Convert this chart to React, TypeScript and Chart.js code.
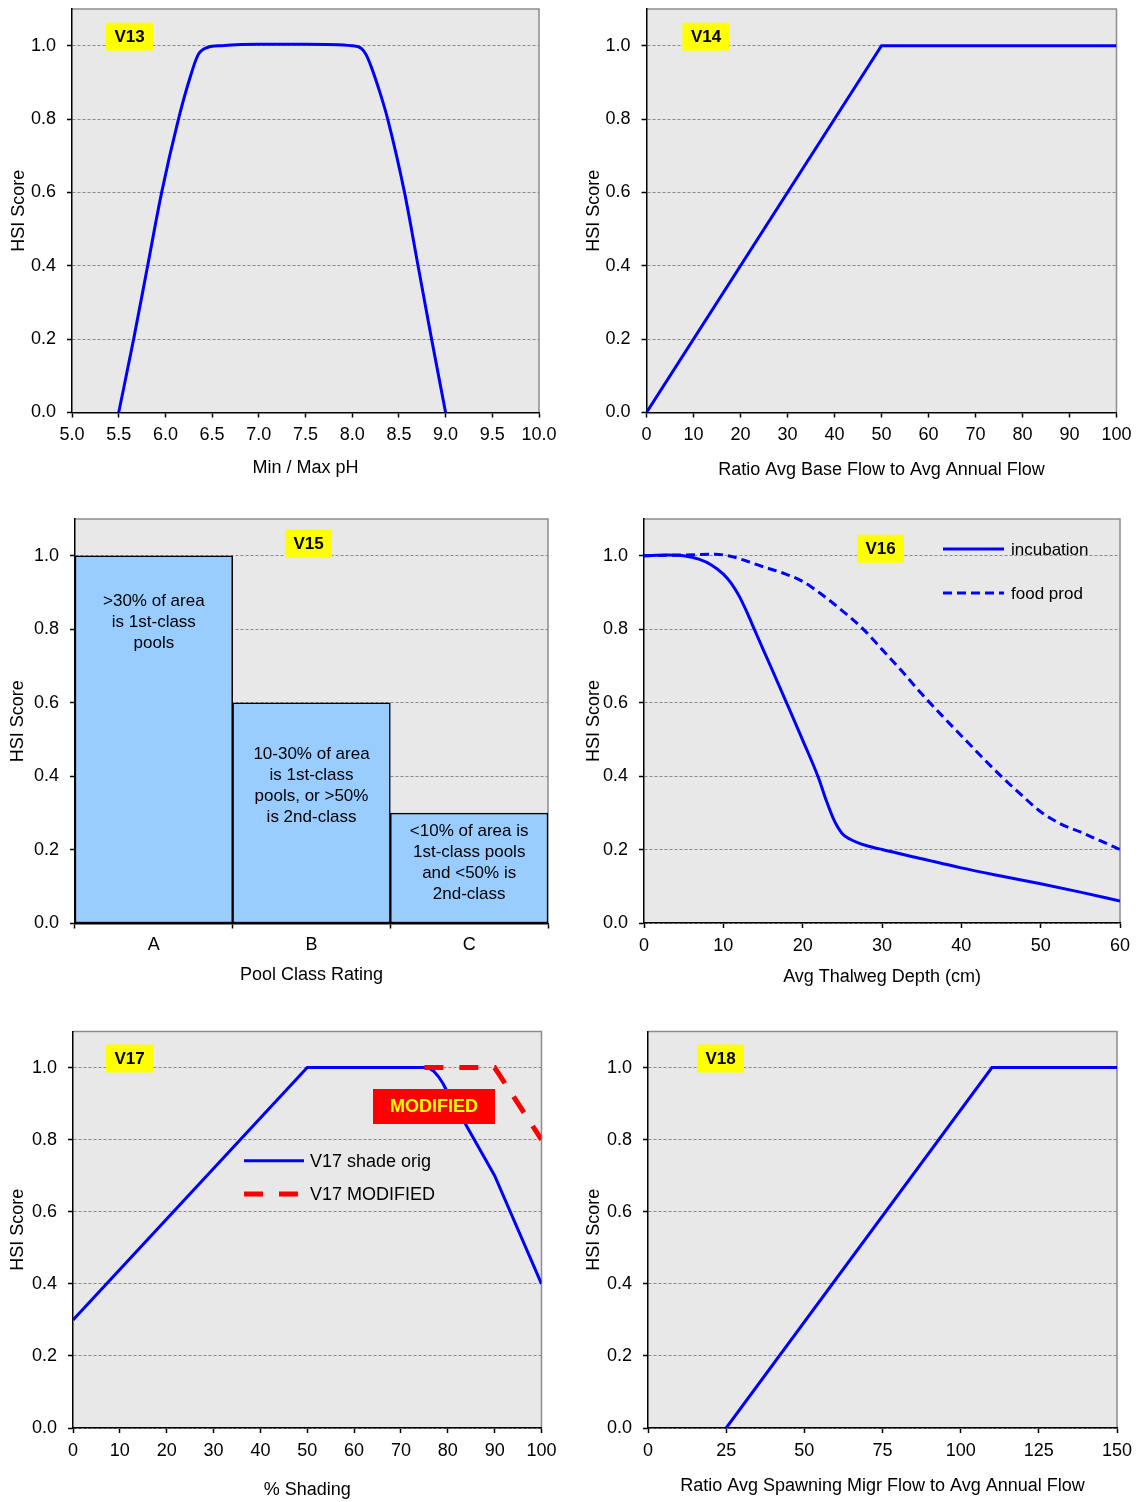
import React, { useEffect, useRef } from "react";
import { Chart, registerables } from "chart.js";

Chart.register(...registerables);

const FONT = '"Liberation Sans", Arial, Helvetica, sans-serif';
const PLOT_BG = "#e8e8e8";
const FRAME = "#8c8c8c";
const GRID = "#8a8a8a";
const BLUE = "#0000ff";
const RED = "#ff0000";

// ---------------- data ----------------
const scoreTicks = [0, 0.2, 0.4, 0.6, 0.8, 1.0];

// V13  pH
const v13Ph = [5.5, 5.66, 5.81, 5.96, 6.14, 6.26, 6.35, 6.45, 6.6, 7.0, 7.5, 8.0, 8.1, 8.15, 8.2, 8.3, 8.38, 8.56, 8.705, 8.85, 9.0];
const v13Score = [0, 0.2, 0.4, 0.6, 0.8, 0.91, 0.975, 0.995, 1.0, 1.004, 1.004, 1.0, 0.992, 0.975, 0.945, 0.87, 0.8, 0.6, 0.4, 0.2, 0];
const v13XTicks = [5.0, 5.5, 6.0, 6.5, 7.0, 7.5, 8.0, 8.5, 9.0, 9.5, 10.0];

// V14  base flow ratio
const v14Ratio = [0, 50, 100];
const v14Score = [0, 1, 1];
const v14XTicks = [0, 10, 20, 30, 40, 50, 60, 70, 80, 90, 100];

// V15  pool class
const v15Classes = ["A", "B", "C"];
const v15Score = [1.0, 0.6, 0.3];
const v15Notes = [
  [">30% of area", "is 1st-class", "pools"],
  ["10-30% of area", "is 1st-class", "pools, or >50%", "is 2nd-class"],
  ["<10% of area is", "1st-class pools", "and <50% is", "2nd-class"],
];

// V16  thalweg depth
const v16IncDepth = [0, 3, 5, 7, 8.5, 10, 11, 12, 13, 14, 16, 18, 20, 22, 23, 24, 25, 26, 27, 28, 30, 35, 40, 45, 50, 55, 60];
const v16IncScore = [1.0, 1.002, 1.0, 0.99, 0.975, 0.95, 0.925, 0.89, 0.845, 0.795, 0.697, 0.598, 0.498, 0.395, 0.332, 0.278, 0.243, 0.228, 0.218, 0.211, 0.2, 0.175, 0.15, 0.128, 0.107, 0.084, 0.06];
const v16FoodDepth = [0, 5, 9, 11, 13, 15, 17.5, 20, 22.5, 25, 27.5, 30, 32.5, 35, 37.5, 40, 42.5, 45, 47.5, 50, 52.5, 55, 57.5, 60];
const v16FoodScore = [1.0, 1.002, 1.004, 0.998, 0.985, 0.97, 0.953, 0.93, 0.893, 0.85, 0.803, 0.745, 0.686, 0.624, 0.566, 0.51, 0.454, 0.4, 0.35, 0.303, 0.27, 0.248, 0.224, 0.2];
const v16XTicks = [0, 10, 20, 30, 40, 50, 60];

// V17  shading
const v17Shade = [0, 50, 75, 76, 77, 78, 79, 80, 90, 100];
const v17Orig = [0.3, 1, 1, 0.998, 0.99, 0.975, 0.955, 0.93, 0.7, 0.4];
const v17ModShade = [75, 90, 100];
const v17Mod = [1, 1, 0.8];
const v17XTicks = [0, 10, 20, 30, 40, 50, 60, 70, 80, 90, 100];

// V18  spawning migration flow ratio
const v18Ratio = [25, 110, 150];
const v18Score = [0, 1, 1];
const v18XTicks = [0, 25, 50, 75, 100, 125, 150];

const pts = (xs: number[], ys: number[]) => xs.map((x, i) => ({ x, y: ys[i] }));

// ---------------- decorations plugin ----------------
const makeDecor = (p: any) => ({
  id: "decor" + p.key,
  beforeDraw(chart: any) {
    const { ctx, chartArea: a } = chart;
    ctx.save();
    ctx.fillStyle = PLOT_BG;
    ctx.fillRect(a.left, a.top, a.right - a.left, a.bottom - a.top);
    ctx.strokeStyle = FRAME;
    ctx.lineWidth = 1.5;
    ctx.beginPath();
    ctx.moveTo(a.left, a.top);
    ctx.lineTo(a.right, a.top);
    ctx.lineTo(a.right, a.bottom);
    ctx.stroke();
    ctx.restore();
  },
  afterDatasetsDraw(chart: any) {
    const { ctx, chartArea: a, scales } = chart;
    const xS = scales.x;
    const yS = scales.y;
    ctx.save();
    if (p.notes) {
      ctx.font = `${p.notes.size}px ${FONT}`;
      ctx.fillStyle = "#000";
      ctx.textAlign = "center";
      ctx.textBaseline = "middle";
      p.notes.lines.forEach((lines: string[], i: number) => {
        const cx = xS.getPixelForValue(i);
        const top = yS.getPixelForValue(p.notes.values[i]) + p.notes.offsets[i];
        lines.forEach((t: string, k: number) => ctx.fillText(t, cx, top + k * p.notes.lineH));
      });
    }
    if (p.stamp) {
      const s = p.stamp;
      const sx = a.left + s.dx;
      const sy = a.top + s.dy;
      ctx.fillStyle = RED;
      ctx.fillRect(sx, sy, s.w, s.h);
      ctx.fillStyle = "#ffff00";
      ctx.font = `bold ${s.size}px ${FONT}`;
      ctx.textAlign = "center";
      ctx.textBaseline = "middle";
      ctx.fillText(s.text, sx + s.w / 2, sy + s.h / 2 + 1);
    }
    if (p.legend) {
      const L = p.legend;
      L.order.forEach((di: number, r: number) => {
        const ds = chart.data.datasets[di];
        const x = a.left + L.dx;
        const y = a.top + L.dy + r * L.row;
        ctx.save();
        ctx.strokeStyle = ds.borderColor;
        ctx.lineWidth = ds.borderWidth;
        ctx.setLineDash(ds.borderDash || []);
        ctx.beginPath();
        ctx.moveTo(x, y);
        ctx.lineTo(x + L.len, y);
        ctx.stroke();
        ctx.restore();
        ctx.fillStyle = "#000";
        ctx.font = `${L.size}px ${FONT}`;
        ctx.textAlign = "left";
        ctx.textBaseline = "middle";
        ctx.fillText(ds.label, x + L.len + L.gap, y + 1);
      });
    }
    const b = p.badge;
    const bx = a.left + b.dx;
    const by = yS.getPixelForValue(1) + b.dy;
    ctx.fillStyle = "#ffff00";
    ctx.fillRect(bx, by, 47, 28);
    ctx.fillStyle = "#000";
    ctx.font = `bold 17px ${FONT}`;
    ctx.textAlign = "center";
    ctx.textBaseline = "middle";
    ctx.fillText(b.text, bx + 23.5, by + 14.5);
    ctx.restore();
  },
});

// ---------------- config builder ----------------
function makeConfig(p: any) {
  const yAxis: any = {
    type: "linear",
    min: 0,
    max: 1.1,
    afterBuildTicks: (s: any) => {
      s.ticks = scoreTicks.map((v) => ({ value: v }));
    },
    afterFit: (s: any) => {
      s.width = p.L - p.x0;
      s.paddingTop = 0;
      s.paddingBottom = 0;
    },
    ticks: {
      callback: (v: any) => Number(v).toFixed(1),
      color: "#000",
      font: { family: FONT, size: 18 },
      padding: 11,
    },
    grid: {
      color: GRID,
      lineWidth: 1,
      drawTicks: true,
      tickLength: 5,
      tickColor: "#000",
      tickWidth: 1.5,
      tickBorderDash: [],
    },
    border: { display: true, color: "#000", width: 1.5, dash: [3, 2] },
    title: {
      display: true,
      text: "HSI Score",
      color: "#000",
      font: { family: FONT, size: 18 },
      padding: { top: p.yTitlePad, bottom: 0 },
    },
  };
  const xAxis: any = {
    type: p.type === "bar" ? "category" : "linear",
    afterFit: (s: any) => {
      s.height = p.y0 + p.h - p.B;
      s.paddingLeft = 0;
      s.paddingRight = 0;
    },
    ticks: {
      color: "#000",
      font: { family: FONT, size: 18 },
      padding: p.xTickPad,
      autoSkip: false,
      maxRotation: 0,
      minRotation: 0,
    },
    grid: {
      display: true,
      drawOnChartArea: false,
      drawTicks: true,
      tickLength: 5,
      color: "#000",
      tickColor: "#000",
      tickWidth: 1.5,
      tickBorderDash: [],
    },
    border: { display: true, color: "#000", width: 1.5 },
    title: {
      display: true,
      text: p.xTitle,
      color: "#000",
      font: { family: FONT, size: 18 },
      padding: { top: 0, bottom: p.xTitlePad },
    },
  };
  if (p.type === "bar") {
    xAxis.offset = true;
    xAxis.grid.offset = true;
  } else {
    xAxis.min = p.xTicks[0];
    xAxis.max = p.xTicks[p.xTicks.length - 1];
    xAxis.afterBuildTicks = (s: any) => {
      s.ticks = p.xTicks.map((v: number) => ({ value: v }));
    };
    xAxis.ticks.callback = (v: any) => p.xFmt(Number(v));
  }
  return {
    type: p.type === "bar" ? "bar" : "line",
    data: p.data,
    options: {
      responsive: false,
      animation: false,
      devicePixelRatio: 1,
      layout: { padding: { left: 0, top: p.T - p.y0, right: p.x0 + p.w - p.R, bottom: 0 } },
      plugins: { legend: { display: false }, tooltip: { enabled: false } },
      elements: { point: { radius: 0 } },
      scales: { x: xAxis, y: yAxis },
    },
    plugins: [makeDecor(p)],
  };
}

const intFmt = (v: number) => String(Math.round(v));

const specs: any[] = [
  {
    key: "v13", type: "line", x0: 0, y0: 0, w: 569, h: 500, L: 72, T: 9, R: 539, B: 412.5,
    xTicks: v13XTicks, xFmt: (v: number) => v.toFixed(1), xTitle: "Min / Max pH",
    xTitlePad: 21, yTitlePad: 8, xTickPad: 7,
    badge: { text: "V13", dx: 34, dy: -23 },
    data: {
      datasets: [
        { label: "V13", data: pts(v13Ph, v13Score), borderColor: BLUE, borderWidth: 3, cubicInterpolationMode: "monotone", pointRadius: 0, fill: false },
      ],
    },
  },
  {
    key: "v14", type: "line", x0: 569, y0: 0, w: 569, h: 500, L: 646.5, T: 9, R: 1116.5, B: 412.5,
    xTicks: v14XTicks, xFmt: intFmt, xTitle: "Ratio Avg Base Flow to Avg Annual Flow",
    xTitlePad: 19, yTitlePad: 14, xTickPad: 7,
    badge: { text: "V14", dx: 36, dy: -23 },
    data: {
      datasets: [
        { label: "V14", data: pts(v14Ratio, v14Score), borderColor: BLUE, borderWidth: 3, tension: 0, pointRadius: 0, fill: false },
      ],
    },
  },
  {
    key: "v15", type: "bar", x0: 0, y0: 500, w: 569, h: 510, L: 75, T: 519, R: 548, B: 923.5,
    xTitle: "Pool Class Rating", xTitlePad: 24, yTitlePad: 7, xTickPad: 6,
    badge: { text: "V15", dx: 210, dy: -26 },
    notes: { lines: v15Notes, values: v15Score, offsets: [45.7, 51.4, 17.7], lineH: 21, size: 17 },
    data: {
      labels: v15Classes,
      datasets: [
        {
          label: "V15", data: v15Score, backgroundColor: "#99ccff", borderColor: "#000", borderWidth: 1.5,
          borderSkipped: false, barPercentage: 1, categoryPercentage: 1,
        },
      ],
    },
  },
  {
    key: "v16", type: "line", x0: 569, y0: 500, w: 569, h: 510, L: 644, T: 519, R: 1120, B: 923,
    xTicks: v16XTicks, xFmt: intFmt, xTitle: "Avg Thalweg Depth (cm)",
    xTitlePad: 22, yTitlePad: 14, xTickPad: 7,
    badge: { text: "V16", dx: 213, dy: -21 },
    legend: { order: [0, 1], dx: 299, dy: 30, len: 61, gap: 7, row: 44, size: 17 },
    data: {
      datasets: [
        { label: "incubation", data: pts(v16IncDepth, v16IncScore), borderColor: BLUE, borderWidth: 3, cubicInterpolationMode: "monotone", pointRadius: 0, fill: false },
        { label: "food prod", data: pts(v16FoodDepth, v16FoodScore), borderColor: BLUE, borderWidth: 3, borderDash: [9, 5], cubicInterpolationMode: "monotone", pointRadius: 0, fill: false },
      ],
    },
  },
  {
    key: "v17", type: "line", x0: 0, y0: 1010, w: 569, h: 492, L: 73, T: 1031.5, R: 541.5, B: 1428,
    xTicks: v17XTicks, xFmt: intFmt, xTitle: "% Shading",
    xTitlePad: 1, yTitlePad: 7, xTickPad: 7,
    badge: { text: "V17", dx: 33, dy: -23 },
    legend: { order: [0, 1], dx: 171, dy: 129.2, len: 60, gap: 6, row: 33.3, size: 18 },
    stamp: { text: "MODIFIED", dx: 300, dy: 57.5, w: 122, h: 35, size: 18 },
    data: {
      datasets: [
        { label: "V17 shade orig", data: pts(v17Shade, v17Orig), borderColor: BLUE, borderWidth: 3, tension: 0, pointRadius: 0, fill: false, order: 2 },
        { label: "V17 MODIFIED", data: pts(v17ModShade, v17Mod), borderColor: RED, borderWidth: 5, borderDash: [19, 16], tension: 0, pointRadius: 0, fill: false, order: 1 },
      ],
    },
  },
  {
    key: "v18", type: "line", x0: 569, y0: 1010, w: 569, h: 492, L: 648, T: 1031.5, R: 1117, B: 1428,
    xTicks: v18XTicks, xFmt: intFmt, xTitle: "Ratio Avg Spawning Migr Flow to Avg Annual Flow",
    xTitlePad: 5, yTitlePad: 14, xTickPad: 7,
    badge: { text: "V18", dx: 49, dy: -23 },
    data: {
      datasets: [
        { label: "V18", data: pts(v18Ratio, v18Score), borderColor: BLUE, borderWidth: 3, tension: 0, pointRadius: 0, fill: false },
      ],
    },
  },
];

function Panel({ spec }: { spec: any }) {
  const ref = useRef<HTMLCanvasElement>(null);
  useEffect(() => {
    if (!ref.current) return;
    const chart = new Chart(ref.current, makeConfig(spec) as any);
    return () => chart.destroy();
  }, [spec]);
  return (
    <canvas
      ref={ref}
      width={spec.w}
      height={spec.h}
      style={{ position: "absolute", left: spec.x0, top: spec.y0, width: spec.w, height: spec.h }}
    />
  );
}

export default function App() {
  return (
    <div style={{ position: "absolute", left: 0, top: 0, width: 1138, height: 1502, overflow: "hidden", background: "#fff" }}>
      {specs.map((s) => (
        <Panel key={s.key} spec={s} />
      ))}
    </div>
  );
}
